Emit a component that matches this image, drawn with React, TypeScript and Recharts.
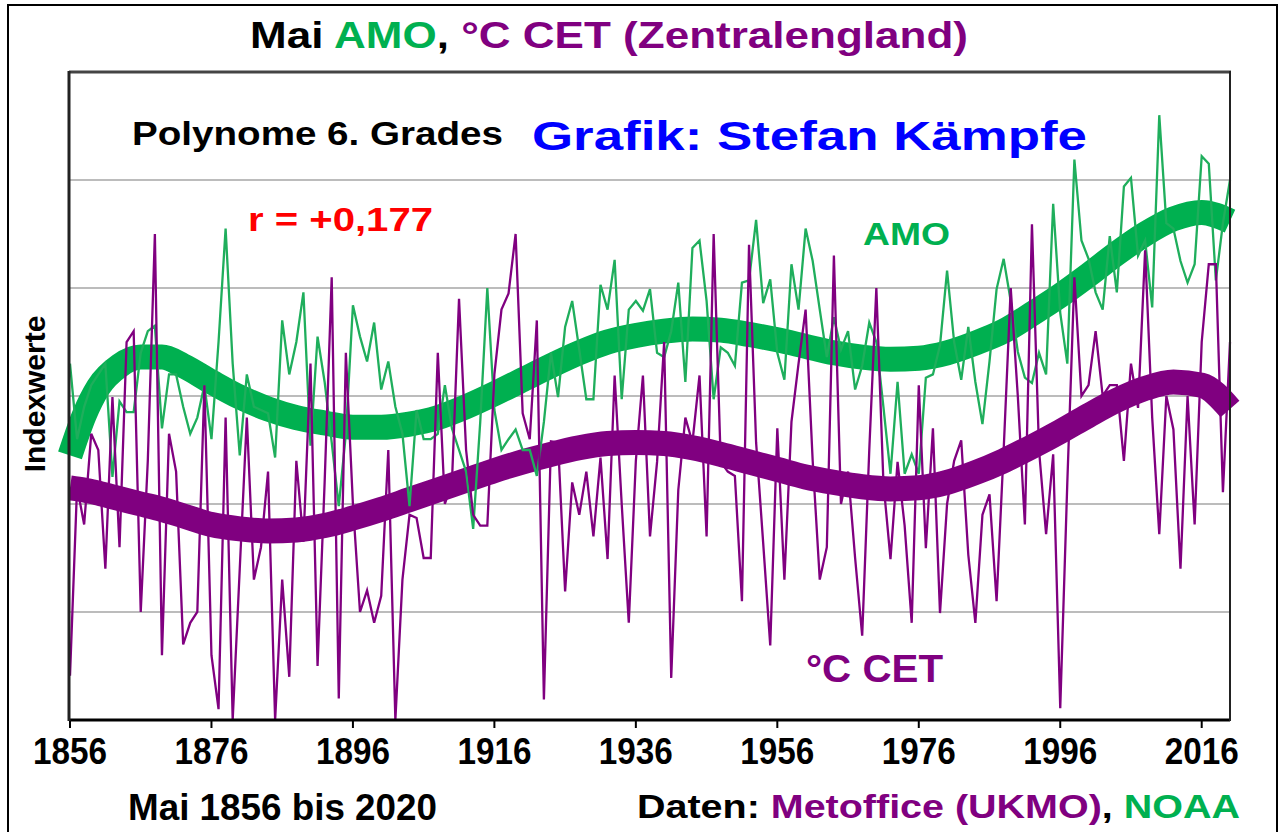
import React from "react";
import { LineChart, Line, XAxis, YAxis, ReferenceLine } from "recharts";

const startYear = 1856;

const amo = [
  3.3, 2.6, 2.9, 3.1, 3.2, 3.3, 2.25, 2.95, 2.85, 2.85, // 1856-1865
  3.4, 3.6, 3.65, 2.7, 3.2, 3.2, 2.9, 2.65, 2.8, 3.1, // 1866-1875
  2.6, 3.5, 4.55, 3.3, 2.45, 3.2, 2.9, 2.87, 2.84, 2.43, // 1876-1885
  3.7, 3.2, 3.5, 3.96, 2.54, 3.55, 3.13, 2.57, 1.98, 2.65, // 1886-1895
  3.84, 3.55, 3.32, 3.68, 3.06, 3.32, 2.9, 2.65, 1.98, 2.87, // 1896-1905
  2.6, 2.6, 2.65, 3.1, 2.7, 2.5, 2.3, 1.77, 2.76, 4.0, // 1906-1915
  2.87, 2.5, 2.6, 2.69, 2.5, 2.5, 2.26, 2.76, 3.4, 2.99, // 1916-1925
  3.64, 3.88, 3.43, 2.97, 2.97, 4.03, 3.8, 4.26, 2.97, 3.8, // 1926-1935
  3.88, 3.79, 3.99, 3.4, 3.36, 3.6, 4.05, 3.13, 4.37, 4.44, // 1936-1945
  3.88, 2.97, 3.45, 3.4, 3.28, 4.05, 4.07, 4.63, 3.86, 4.08, // 1946-1955
  3.4, 3.15, 4.22, 3.8, 4.55, 4.25, 3.8, 3.36, 3.73, 3.43, // 1956-1965
  3.6, 3.06, 3.28, 3.68, 3.5, 2.9, 2.28, 3.13, 2.28, 2.46, // 1966-1975
  2.28, 3.17, 3.2, 3.47, 4.16, 3.5, 3.15, 3.64, 3.13, 2.74, // 1976-1985
  3.32, 3.99, 4.27, 3.88, 3.41, 3.17, 3.12, 3.4, 3.2, 4.78, // 1986-1995
  3.77, 3.3, 5.19, 4.44, 4.27, 3.96, 3.8, 4.48, 3.96, 4.94, // 1996-2005
  5.02, 4.3, 4.44, 3.82, 5.6, 4.6, 4.55, 4.25, 4.05, 4.22, // 2006-2015
  5.22, 5.15, 4.07, 4.6, 5.0, // 2016-2020
];

const cet = [
  0.41, 2.16, 1.81, 2.65, 2.5, 1.4, 2.99, 1.6, 3.5, 3.6, // 1856-1865
  1.0, 2.4, 4.5, 0.6, 2.65, 2.3, 0.7, 0.9, 1.0, 3.1, // 1866-1875
  0.6, 0.1, 2.8, 0.0, 1.4, 2.8, 1.3, 1.6, 2.3, 0.0, // 1876-1885
  1.3, 0.4, 2.4, 1.65, 3.3, 0.5, 2.2, 4.1, 0.2, 3.4, // 1886-1895
  2.0, 1.0, 1.2, 0.9, 1.15, 2.5, 0.0, 1.3, 1.9, 1.87, // 1896-1905
  1.5, 1.5, 3.4, 2.0, 2.2, 3.9, 2.5, 1.9, 1.8, 1.8, // 1906-1915
  3.2, 3.8, 3.95, 4.5, 2.84, 2.6, 3.7, 0.19, 2.58, 2.57, // 1916-1925
  1.19, 2.2, 1.9, 2.3, 1.7, 2.43, 1.49, 3.19, 2.0, 0.9, // 1926-1935
  2.4, 3.19, 1.7, 2.39, 3.5, 0.39, 2.13, 2.8, 2.57, 3.19, // 1936-1945
  1.7, 4.5, 2.39, 2.3, 2.26, 1.1, 4.4, 2.57, 1.64, 0.69, // 1946-1955
  2.7, 1.3, 2.76, 3.3, 3.8, 2.4, 1.3, 1.6, 4.3, 2.0, // 1956-1965
  2.3, 1.5, 0.78, 2.5, 4.0, 2.2, 1.49, 2.39, 1.8, 0.9, // 1966-1975
  3.1, 1.59, 2.7, 0.99, 2.0, 2.4, 2.59, 1.53, 0.9, 1.9, // 1976-1985
  2.09, 1.1, 2.5, 4.0, 3.0, 1.81, 4.59, 2.5, 1.72, 2.46, // 1986-1995
  0.11, 2.2, 4.1, 3.0, 3.1, 3.6, 3.0, 3.1, 3.1, 2.4, // 1996-2005
  3.3, 2.89, 4.35, 2.8, 1.72, 3.0, 2.69, 1.4, 3.0, 1.81, // 2006-2015
  3.5, 4.22, 4.22, 2.11, 3.5, // 2016-2020
];

// Polynome 6. Grades
const trendYears = [
  1856, 1858, 1860, 1863, 1866, 1869, 1872, 1876, 1880, 1884, 1888, 1892,
  1896, 1900, 1904, 1908, 1912, 1916, 1920, 1924, 1928, 1932, 1936, 1940,
  1944, 1948, 1952, 1956, 1960, 1964, 1968, 1972, 1976, 1980, 1984, 1988,
  1992, 1996, 2000, 2004, 2008, 2012, 2016, 2020,
];
const amoTrend = [
  2.45, 2.82, 3.08, 3.28, 3.36, 3.36, 3.28, 3.13, 2.99, 2.88, 2.8, 2.75,
  2.71, 2.71, 2.74, 2.8, 2.9, 3.02, 3.15, 3.28, 3.4, 3.5, 3.56, 3.6,
  3.62, 3.61, 3.57, 3.52, 3.46, 3.4, 3.36, 3.34, 3.35, 3.4, 3.49, 3.6,
  3.76, 3.93, 4.12, 4.32, 4.5, 4.64, 4.7, 4.62,
];
const cetTrend = [
  2.15, 2.13, 2.1, 2.05, 2.0, 1.95, 1.89, 1.81, 1.77, 1.75, 1.76, 1.8,
  1.87, 1.95, 2.04, 2.13, 2.22, 2.31, 2.39, 2.46, 2.52, 2.56, 2.57, 2.56,
  2.52, 2.46, 2.39, 2.32, 2.25, 2.2, 2.16, 2.14, 2.15, 2.2, 2.29, 2.4,
  2.53, 2.67, 2.82, 2.96, 3.07, 3.13, 3.1, 2.88,
];

const xTicks = [1856, 1876, 1896, 1916, 1936, 1956, 1976, 1996, 2016];
const gridValues = [1, 2, 3, 4, 5];

const GREEN = "#00b050";
const GREEN_THIN = "#1fae5c";
const PURPLE = "#800080";
const FONT = "'Liberation Sans', Arial, sans-serif";

const rows = amo.map((v, i) => ({ year: startYear + i, amo: v, cet: cet[i] }));
const amoTrendRows = trendYears.map((y, i) => ({ year: y, v: amoTrend[i] }));
const cetTrendRows = trendYears.map((y, i) => ({ year: y, v: cetTrend[i] }));

const YearTick = (props: any) => {
  const { x, y, payload } = props;
  return (
    <text
      x={x}
      y={y + 34}
      textAnchor="middle"
      fontFamily={FONT}
      fontWeight="bold"
      fontSize={37}
      fill="#000"
      textLength={74}
      lengthAdjust="spacingAndGlyphs"
    >
      {payload.value}
    </text>
  );
};

const txt = {
  fontFamily: FONT,
  fontWeight: "bold" as const,
  lengthAdjust: "spacingAndGlyphs",
};

export default function App() {
  return (
    <div
      style={{
        position: "absolute",
        left: 0,
        top: 0,
        width: 1283,
        height: 832,
        background: "#fff",
        overflow: "hidden",
      }}
    >
      <LineChart
        width={1283}
        height={832}
        data={rows}
        margin={{ top: 72, right: 53, bottom: 52, left: 70 }}
      >
        <XAxis
          dataKey="year"
          type="number"
          domain={[1856, 2020]}
          ticks={xTicks}
          allowDuplicatedCategory={false}
          height={60}
          tickSize={8}
          axisLine={{ stroke: "#000", strokeWidth: 3 }}
          tickLine={{ stroke: "#000", strokeWidth: 2 }}
          tick={<YearTick />}
          interval={0}
        />
        <YAxis hide domain={[0, 6]} type="number" allowDataOverflow />
        {gridValues.map((g) => (
          <ReferenceLine key={g} y={g} stroke="#a6a6a6" strokeWidth={1.5} />
        ))}
        <Line
          data={amoTrendRows}
          dataKey="v"
          type="monotone"
          stroke={GREEN}
          strokeWidth={25}
          dot={false}
          isAnimationActive={false}
        />
        <Line
          data={cetTrendRows}
          dataKey="v"
          type="monotone"
          stroke={PURPLE}
          strokeWidth={25}
          dot={false}
          isAnimationActive={false}
        />
        <Line
          dataKey="amo"
          type="linear"
          stroke={GREEN_THIN}
          strokeWidth={2.3}
          dot={false}
          isAnimationActive={false}
        />
        <Line
          dataKey="cet"
          type="linear"
          stroke={PURPLE}
          strokeWidth={2.3}
          dot={false}
          isAnimationActive={false}
        />
      </LineChart>

      <svg
        width={1283}
        height={832}
        style={{ position: "absolute", left: 0, top: 0, pointerEvents: "none" }}
      >
        {/* Rahmen */}
        <rect x={8} y={5} width={1269} height={900} fill="none" stroke="#000" strokeWidth={2} />
        <line x1={69} y1={72} x2={1231} y2={72} stroke="#444" strokeWidth={3} />
        <line x1={69} y1={71} x2={69} y2={721} stroke="#222" strokeWidth={3} />
        <line x1={1230} y1={71} x2={1230} y2={721} stroke="#222" strokeWidth={2} />

        <text x={250} y={48} fontSize={37} textLength={718} {...txt}>
          <tspan fill="#000">Mai </tspan>
          <tspan fill={GREEN}>AMO</tspan>
          <tspan fill="#000">, </tspan>
          <tspan fill={PURPLE}>°C CET (Zentralengland)</tspan>
        </text>

        <text x={132} y={145} fontSize={34} textLength={371} fill="#000" {...txt}>
          Polynome 6. Grades
        </text>
        <text x={532} y={150} fontSize={40} textLength={555} fill="#0000ff" {...txt}>
          Grafik: Stefan Kämpfe
        </text>
        <text x={248} y={231} fontSize={33} textLength={185} fill="#ff0000" {...txt}>
          r = +0,177
        </text>
        <text x={863} y={245} fontSize={31} textLength={87} fill={GREEN} {...txt}>
          AMO
        </text>
        <text x={806} y={682} fontSize={38} textLength={137} fill={PURPLE} {...txt}>
          °C CET
        </text>
        <text
          x={45}
          y={394}
          fontSize={30}
          textAnchor="middle"
          transform="rotate(-90 45 394)"
          fill="#000"
          {...txt}
        >
          Indexwerte
        </text>

        <text x={128} y={820} fontSize={36} textLength={309} fill="#000" {...txt}>
          Mai 1856 bis 2020
        </text>
        <text x={637} y={818} fontSize={34} textLength={603} {...txt}>
          <tspan fill="#000">Daten: </tspan>
          <tspan fill={PURPLE}>Metoffice (UKMO)</tspan>
          <tspan fill="#000">, </tspan>
          <tspan fill={GREEN}>NOAA</tspan>
        </text>
      </svg>
    </div>
  );
}
